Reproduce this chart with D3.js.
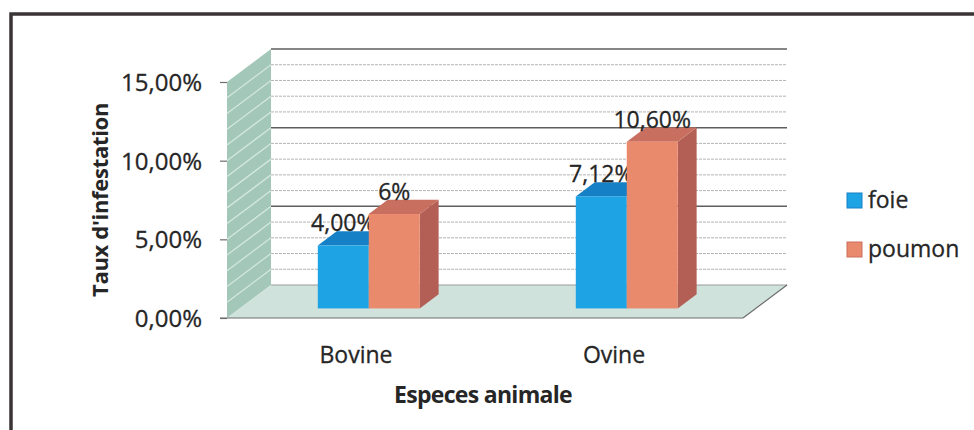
<!DOCTYPE html>
<html>
<head>
<meta charset="utf-8">
<script src="https://cdn.jsdelivr.net/npm/d3@7"></script>
<style>
  html, body { margin: 0; padding: 0; background: #fff; }
  svg { display: block; font-family: "Open Sans", "Noto Sans", sans-serif; }
</style>
</head>
<body>
<svg id="chart" width="974" height="430"></svg>
<script>
// Infestation rate by animal species and organ
const categories = ["Bovine", "Ovine"];
const seriesNames = ["foie", "poumon"];
const foieValues = [0.04, 0.0712];
const poumonValues = [0.06, 0.106];
const foieLabels = ["4,00%", "7,12%"];
const poumonLabels = ["6%", "10,60%"];
const yTicks = [0, 0.05, 0.10, 0.15];
const yTickLabels = ["0,00%", "5,00%", "10,00%", "15,00%"];
const minorStep = 0.01;

const colors = {
  foie:   { front: "#1ea4e4", top: "#1680c6", side: "#136fae" },
  poumon: { front: "#ea8a6d", top: "#c96f5f", side: "#b35f55" }
};
const textColor = "#262626";

const svg = d3.select("#chart");

// Outer frame
svg.append("rect")
  .attr("x", 11).attr("y", 14).attr("width", 1000).attr("height", 460)
  .attr("fill", "none").attr("stroke", "#3a3437").attr("stroke-width", 3.5);

// Oblique 3D geometry: front plane and depth offset of the back wall
const front = { left: 227, right: 743, bottom: 318, top: 82 };
const depth = { dx: 44, dy: -33 };
const barDepth = { from: 0.29, to: 0.72 };

const y = d3.scaleLinear().domain([0, 0.15]).range([front.bottom, front.top]);
const x = d3.scaleBand().domain(categories).range([front.left, front.right])
  .paddingInner(0.605).paddingOuter(0.3025);
const xs = d3.scaleBand().domain(seriesNames).range([0, x.bandwidth()]).padding(0);

const g = svg.append("g");
const pts = a => a.map(p => p.join(",")).join(" ");

// Left side wall
const wallX0 = front.left, wallX1 = front.left + depth.dx;
g.append("polygon")
  .attr("points", pts([[wallX0, y(0.15)], [wallX1, y(0.15) + depth.dy],
                       [wallX1, y(0) + depth.dy], [wallX0, y(0)]]))
  .attr("fill", "#a3c7b8");
const minorVals = d3.range(1, 15).map(i => i * minorStep);
g.selectAll("line.wallgrid").data(minorVals).join("line")
  .attr("class", "wallgrid")
  .attr("x1", wallX0).attr("y1", d => y(d))
  .attr("x2", wallX1).attr("y2", d => y(d) + depth.dy)
  .attr("stroke", "#d4e8df").attr("stroke-width", 1.3);

// Floor
g.append("polygon")
  .attr("points", pts([[front.left, y(0)], [front.right, y(0)],
                       [front.right + depth.dx, y(0) + depth.dy],
                       [front.left + depth.dx, y(0) + depth.dy]]))
  .attr("fill", "#cfe2db");
g.append("line")
  .attr("x1", front.left + depth.dx).attr("y1", y(0) + depth.dy)
  .attr("x2", front.right + depth.dx).attr("y2", y(0) + depth.dy)
  .attr("stroke", "#9a9a9a").attr("stroke-width", 1);
g.append("line")
  .attr("x1", front.right).attr("y1", y(0))
  .attr("x2", front.right + depth.dx).attr("y2", y(0) + depth.dy)
  .attr("stroke", "#6d6d6d").attr("stroke-width", 1.2);

// Back wall gridlines (minor every 1 %, major every 5 %)
const backX0 = front.left + depth.dx, backX1 = front.right + depth.dx;
g.selectAll("line.minor").data(minorVals.filter(v => Math.round(v * 100) % 5 !== 0)).join("line")
  .attr("class", "minor")
  .attr("x1", backX0).attr("x2", backX1)
  .attr("y1", d => y(d) + depth.dy).attr("y2", d => y(d) + depth.dy)
  .attr("stroke", "#b3b3b3").attr("stroke-width", 1).attr("stroke-dasharray", "3,1");
g.selectAll("line.major").data(yTicks.filter(v => v > 0)).join("line")
  .attr("class", "major")
  .attr("x1", backX0).attr("x2", backX1)
  .attr("y1", d => y(d) + depth.dy).attr("y2", d => y(d) + depth.dy)
  .attr("stroke", "#5e5e5e").attr("stroke-width", 1.5);

// Bars as oblique boxes
const bars = [];
categories.forEach((c, i) => {
  bars.push({ cat: c, s: "foie", v: foieValues[i], label: foieLabels[i] });
  bars.push({ cat: c, s: "poumon", v: poumonValues[i], label: poumonLabels[i] });
});
const ox0 = barDepth.from * depth.dx, oy0 = barDepth.from * depth.dy;
const bdx = (barDepth.to - barDepth.from) * depth.dx;
const bdy = (barDepth.to - barDepth.from) * depth.dy;

const barG = g.selectAll("g.bar").data(bars).join("g").attr("class", "bar");
barG.each(function(d) {
  const el = d3.select(this);
  const x0 = x(d.cat) + xs(d.s) + ox0;
  const x1 = x0 + xs.bandwidth();
  const yb = y(0) + oy0;
  const yt = y(d.v) + oy0;
  const c = colors[d.s];
  el.append("polygon")
    .attr("points", pts([[x1, yt], [x1 + bdx, yt + bdy], [x1 + bdx, yb + bdy], [x1, yb]]))
    .attr("fill", c.side);
  el.append("polygon")
    .attr("points", pts([[x0, yt], [x0 + bdx, yt + bdy], [x1 + bdx, yt + bdy], [x1, yt]]))
    .attr("fill", c.top);
  el.append("rect")
    .attr("x", x0).attr("y", yt).attr("width", x1 - x0).attr("height", yb - yt)
    .attr("fill", c.front);
});

// Front axis line along the floor edge
g.append("line")
  .attr("x1", front.left - 7).attr("y1", y(0))
  .attr("x2", front.right).attr("y2", y(0))
  .attr("stroke", "#6d6d6d").attr("stroke-width", 1.2);

// Y axis
const yAxis = d3.axisLeft(y).tickValues(yTicks)
  .tickFormat((d, i) => yTickLabels[i]).tickSize(7).tickPadding(18);
const ya = svg.append("g").attr("transform", `translate(${front.left},0)`).call(yAxis);
ya.select(".domain").remove();
ya.selectAll(".tick line").attr("stroke", "#6d6d6d").attr("stroke-width", 1.2);
ya.selectAll(".tick text")
  .attr("font-family", "'Open Sans', sans-serif").attr("font-size", 24)
  .attr("fill", textColor).attr("stroke", textColor).attr("stroke-width", 0.3)
  .attr("dy", "0.36em");

// X axis category labels
const xAxis = d3.axisBottom(x).tickSize(0).tickPadding(0);
const xa = svg.append("g").attr("transform", `translate(0,${front.bottom})`).call(xAxis);
xa.select(".domain").remove();
xa.selectAll(".tick text")
  .attr("font-family", "'Open Sans', sans-serif").attr("font-size", 23)
  .attr("fill", textColor).attr("stroke", textColor).attr("stroke-width", 0.3)
  .attr("y", 45).attr("dy", 0);

// Value labels
barG.append("text")
  .attr("x", d => x(d.cat) + xs(d.s) + ox0 + xs.bandwidth() / 2)
  .attr("y", d => y(d.v) + oy0 - 14)
  .attr("text-anchor", "middle")
  .attr("font-size", 23).attr("fill", textColor)
  .attr("stroke", textColor).attr("stroke-width", 0.3)
  .text(d => d.label);

// Axis titles
svg.append("text")
  .attr("transform", `translate(108,${(front.top + front.bottom) / 2}) rotate(-90)`)
  .attr("text-anchor", "middle")
  .attr("font-size", 22).attr("font-weight", "bold").attr("fill", textColor)
  .attr("letter-spacing", -0.3)
  .text("Taux d'infestation");
svg.append("text")
  .attr("x", 483).attr("y", 403)
  .attr("text-anchor", "middle")
  .attr("font-size", 23).attr("font-weight", "bold").attr("fill", textColor)
  .attr("letter-spacing", -0.7)
  .text("Especes animale");

// Legend
const legend = svg.append("g").attr("transform", "translate(847,193)");
const li = legend.selectAll("g").data(seriesNames).join("g")
  .attr("transform", (d, i) => `translate(0,${i * 49})`);
li.append("rect").attr("width", 15).attr("height", 15)
  .attr("fill", d => colors[d].front)
  .attr("stroke", d => colors[d].top).attr("stroke-width", 1);
li.append("text").attr("x", 21).attr("y", 15)
  .attr("font-size", 23).attr("fill", textColor)
  .attr("stroke", textColor).attr("stroke-width", 0.3)
  .text(d => d);
</script>
</body>
</html>
